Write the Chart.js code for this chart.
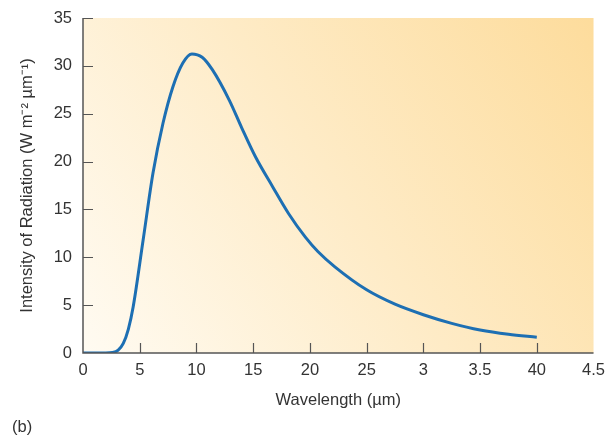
<!DOCTYPE html>
<html>
<head>
<meta charset="utf-8">
<script src="https://cdn.jsdelivr.net/npm/chart.js@4"></script>
<style>
  html, body { margin: 0; padding: 0; background: #fff; }
  #wrap { width: 613px; height: 437px; }
</style>
</head>
<body>
<div id="wrap"><canvas id="chart" width="613" height="437"></canvas></div>
<script>
// wavelength along the x axis (axis units 0..45)
const wavelength = [0, 1, 2, 2.6, 3.1, 3.55, 4.0, 4.42, 5.3, 6.17, 7.05, 7.92, 8.8, 9.6, 10.5, 11.4, 12.9, 14.0, 15.2, 16.7, 18.1, 19.6, 20.7, 22.2, 25, 27.5, 30, 32.5, 35, 37.5, 40]
const intensity = [0, 0, 0, 0.05, 0.3, 1.0, 2.5, 4.8, 11.8, 18.8, 24.0, 27.8, 30.3, 31.25, 30.9, 29.6, 26.4, 23.5, 20.5, 17.4, 14.6, 12.1, 10.6, 9.0, 6.6, 5.1, 4.0, 3.1, 2.4, 1.95, 1.65]

// tick labels printed under the axis, as in the figure
const xTickValues = [0, 5, 10, 15, 20, 25, 30, 35, 40, 45]
const xTickLabels = ['0', '5', '10', '15', '20', '25', '3', '3.5', '40', '4.5']
const yTickValues = [0, 5, 10, 15, 20, 25, 30, 35]

const textColor = '#333'
const axisColor = '#555'
const font = {family: "'Liberation Sans', Arial, sans-serif", size: 16.5}

const panelBackground = {
    id: 'panelBackground',
    beforeDraw(chart) {
        const {ctx, chartArea: a} = chart
        const g = ctx.createLinearGradient(a.left, a.bottom, a.right, a.top)
        g.addColorStop(0, '#fffbf2')
        g.addColorStop(0.5, '#feebc6')
        g.addColorStop(1, '#fddc9c')
        ctx.save()
        ctx.fillStyle = g
        ctx.fillRect(a.left, a.top, a.right - a.left, a.bottom - a.top)
        ctx.restore()
    }
}

// axis lines with tick marks pointing into the plot
const innerTicks = {
    id: 'innerTicks',
    afterDatasetsDraw(chart) {
        const {ctx, chartArea: a, scales} = chart
        ctx.save()
        ctx.strokeStyle = axisColor
        ctx.lineWidth = 1.5
        ctx.beginPath()
        ctx.moveTo(a.left, a.top)
        ctx.lineTo(a.left, a.bottom)
        ctx.lineTo(a.right, a.bottom)
        ctx.stroke()
        ctx.lineWidth = 1.2
        ctx.beginPath()
        scales.x.ticks.forEach(t => {
            if (t.value === 0 || t.value === 45) return
            const px = Math.round(scales.x.getPixelForValue(t.value)) + 0.5
            ctx.moveTo(px, a.bottom)
            ctx.lineTo(px, a.bottom - 10)
        })
        scales.y.ticks.forEach(t => {
            if (t.value === 0) return
            const py = Math.round(scales.y.getPixelForValue(t.value)) + 0.5
            ctx.moveTo(a.left, py)
            ctx.lineTo(a.left + 10, py)
        })
        ctx.stroke()
        ctx.restore()
    }
}

const panelLabel = {
    id: 'panelLabel',
    afterDraw(chart) {
        const {ctx} = chart
        ctx.save()
        ctx.fillStyle = textColor
        ctx.font = "16.5px 'Liberation Sans', Arial, sans-serif"
        ctx.textBaseline = 'middle'
        ctx.fillText('(b)', 12, 427)
        ctx.restore()
    }
}

new Chart(document.getElementById('chart').getContext('2d'), {
    type: 'line',
    data: {
        datasets: [{
            data: wavelength.map((w, i) => ({x: w, y: intensity[i]})),
            borderColor: '#1d6fb3',
            borderWidth: 3,
            pointRadius: 0,
            cubicInterpolationMode: 'monotone',
            fill: false
        }]
    },
    options: {
        responsive: false,
        animation: false,
        layout: {padding: {top: 18, right: 16, bottom: 0, left: 0}},
        plugins: {legend: {display: false}, tooltip: {enabled: false}},
        scales: {
            x: {
                type: 'linear',
                min: 0,
                max: 45,
                afterBuildTicks: scale => { scale.ticks = xTickValues.map(v => ({value: v})) },
                afterFit: scale => { scale.height = 84 },
                grid: {display: false, drawTicks: false},
                border: {display: false},
                ticks: {
                    color: textColor,
                    font,
                    padding: 8,
                    maxRotation: 0,
                    autoSkip: false,
                    callback: (value) => xTickLabels[xTickValues.indexOf(value)]
                },
                title: {
                    display: true,
                    text: 'Wavelength (µm)',
                    color: textColor,
                    font,
                    padding: {top: 0, bottom: 27}
                }
            },
            y: {
                min: 0,
                max: 35,
                afterBuildTicks: scale => { scale.ticks = yTickValues.map(v => ({value: v})) },
                afterFit: scale => {
                    scale.width = 83
                    scale.paddingTop = 10
                    scale.paddingBottom = 10
                },
                grid: {display: false, drawTicks: false},
                border: {display: false},
                ticks: {color: textColor, font, padding: 11},
                title: {
                    display: true,
                    text: 'Intensity of Radiation (W m⁻² µm⁻¹)',
                    color: textColor,
                    font,
                    padding: {top: 18, bottom: 0}
                }
            }
        }
    },
    plugins: [panelBackground, innerTicks, panelLabel]
})
</script>
</body>
</html>
